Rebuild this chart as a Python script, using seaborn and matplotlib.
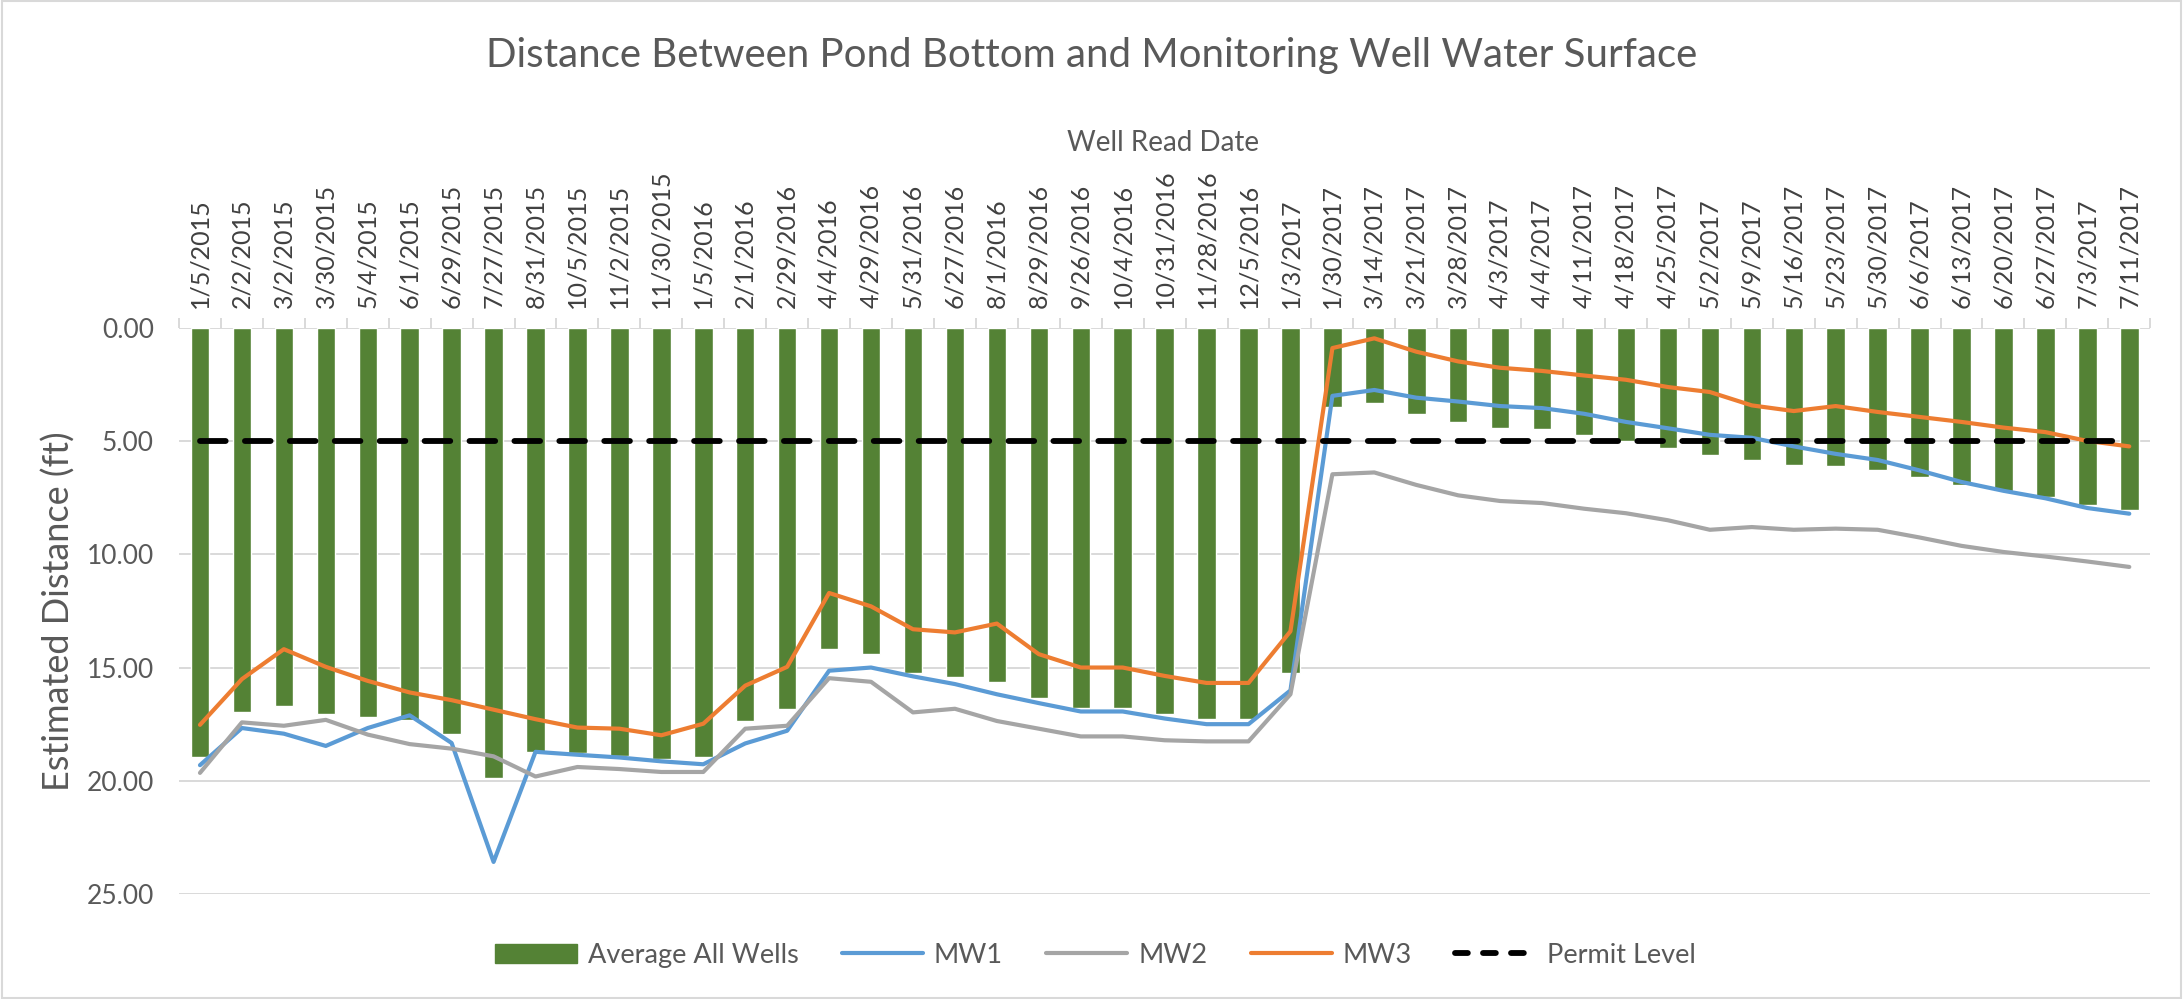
import numpy as np
import pandas as pd
import matplotlib
matplotlib.use("Agg")
import matplotlib.pyplot as plt
from matplotlib.patches import Patch, Rectangle
from matplotlib.lines import Line2D
from matplotlib.ticker import FixedLocator, FormatStrFormatter
import seaborn as sns

# well read dates (category axis)
dates = [
    "1/5/2015", "2/2/2015", "3/2/2015", "3/30/2015", "5/4/2015", "6/1/2015",
    "6/29/2015", "7/27/2015", "8/31/2015", "10/5/2015", "11/2/2015", "11/30/2015",
    "1/5/2016", "2/1/2016", "2/29/2016", "4/4/2016", "4/29/2016", "5/31/2016",
    "6/27/2016", "8/1/2016", "8/29/2016", "9/26/2016", "10/4/2016", "10/31/2016",
    "11/28/2016", "12/5/2016", "1/3/2017", "1/30/2017", "3/14/2017", "3/21/2017",
    "3/28/2017", "4/3/2017", "4/4/2017", "4/11/2017", "4/18/2017", "4/25/2017",
    "5/2/2017", "5/9/2017", "5/16/2017", "5/23/2017", "5/30/2017", "6/6/2017",
    "6/13/2017", "6/20/2017", "6/27/2017", "7/3/2017", "7/11/2017",
]

avg_all = [
    18.94, 16.98, 16.69, 17.06, 17.20, 17.31, 17.92, 19.88, 18.75, 18.77, 18.89, 19.02,
    18.94, 17.38, 16.82, 14.19, 14.41, 15.25, 15.42, 15.63, 16.35, 16.77, 16.77, 17.03,
    17.25, 17.25, 15.25, 3.51, 3.31, 3.80, 4.15, 4.41, 4.48, 4.73, 5.00, 5.29,
    5.63, 5.83, 6.05, 6.10, 6.30, 6.59, 6.93, 7.23, 7.48, 7.82, 8.04,
]
mw1 = [
    19.31, 17.67, 17.92, 18.46, 17.67, 17.11, 18.33, 23.58, 18.72, 18.85, 18.97, 19.14,
    19.27, 18.35, 17.79, 15.14, 15.00, 15.39, 15.73, 16.18, 16.57, 16.94, 16.94, 17.25,
    17.50, 17.50, 16.01, 3.01, 2.75, 3.09, 3.26, 3.46, 3.55, 3.80, 4.16, 4.44,
    4.73, 4.86, 5.24, 5.57, 5.84, 6.30, 6.81, 7.20, 7.53, 7.96, 8.21,
]
mw2 = [
    19.65, 17.42, 17.57, 17.31, 17.96, 18.38, 18.58, 18.92, 19.81, 19.39, 19.48, 19.61,
    19.61, 17.70, 17.57, 15.47, 15.63, 16.98, 16.82, 17.36, 17.70, 18.04, 18.04, 18.21,
    18.26, 18.26, 16.18, 6.47, 6.39, 6.94, 7.40, 7.65, 7.74, 7.99, 8.19, 8.50,
    8.92, 8.80, 8.92, 8.87, 8.92, 9.26, 9.63, 9.90, 10.10, 10.32, 10.56,
]
mw3 = [
    17.53, 15.51, 14.19, 14.97, 15.59, 16.10, 16.44, 16.86, 17.28, 17.65, 17.70, 17.99,
    17.48, 15.80, 14.97, 11.71, 12.30, 13.31, 13.45, 13.06, 14.41, 15.00, 15.00, 15.37,
    15.68, 15.68, 13.40, 0.90, 0.47, 1.06, 1.49, 1.77, 1.91, 2.11, 2.30, 2.62,
    2.84, 3.43, 3.68, 3.46, 3.72, 3.94, 4.16, 4.41, 4.61, 5.00, 5.24,
]
permit = [
    5.00, 5.00, 5.00, 5.00, 5.00, 5.00, 5.00, 5.00, 5.00, 5.00, 5.00, 5.00,
    5.00, 5.00, 5.00, 5.00, 5.00, 5.00, 5.00, 5.00, 5.00, 5.00, 5.00, 5.00,
    5.00, 5.00, 5.00, 5.00, 5.00, 5.00, 5.00, 5.00, 5.00, 5.00, 5.00, 5.00,
    5.00, 5.00, 5.00, 5.00, 5.00, 5.00, 5.00, 5.00, 5.00, 5.00, 5.00,
]

GREEN = "#548235"
BLUE = "#5B9BD5"
GRAY = "#A5A5A5"
ORANGE = "#ED7D31"
TEXT = "#595959"
GRID = "#D9D9D9"

sns.set_theme(style="white")
plt.rcParams["font.family"] = ["Lato", "DejaVu Sans"]

df = pd.DataFrame({"date": dates, "avg": avg_all, "mw1": mw1, "mw2": mw2,
                   "mw3": mw3, "permit": permit})
df["pos"] = np.arange(len(df))

fig = plt.figure(figsize=(21.83, 9.99), dpi=100)
ax = fig.add_axes([0.082, 0.105, 0.903, 0.567])

sns.barplot(data=df, x="date", y="avg", color=GREEN, saturation=1,
            width=0.44, ax=ax, zorder=2)
sns.lineplot(data=df, x="pos", y="mw1", color=BLUE, linewidth=3, ax=ax, zorder=3)
sns.lineplot(data=df, x="pos", y="mw2", color=GRAY, linewidth=3, ax=ax, zorder=3)
sns.lineplot(data=df, x="pos", y="mw3", color=ORANGE, linewidth=3, ax=ax, zorder=3)
sns.lineplot(data=df, x="pos", y="permit", color="black", linewidth=4.2,
             linestyle=(0, (4.4, 3.3)), dash_capstyle="round", ax=ax, zorder=4)

# y axis: distance grows downward
ax.set_ylim(25, 0)
ax.yaxis.set_major_locator(FixedLocator([0, 5, 10, 15, 20, 25]))
ax.yaxis.set_major_formatter(FormatStrFormatter("%.2f"))
ax.set_xlim(-0.5, len(dates) - 0.5)
ax.grid(axis="y", color=GRID, linewidth=1.4)
ax.set_axisbelow(True)
for s in ax.spines.values():
    s.set_visible(False)

# category axis on top
ax.xaxis.tick_top()
ax.set_xticks(np.arange(len(dates)))
ax.set_xticklabels(dates, rotation=90, fontsize=18, color="#404040")
ax.set_xticks(np.arange(len(dates) + 1) - 0.5, minor=True)
ax.tick_params(axis="x", which="major", length=0, pad=14)
ax.tick_params(axis="x", which="minor", length=7, width=1.4, color=GRID, top=True, bottom=False)
ax.tick_params(axis="y", length=0, pad=18, labelsize=19, labelcolor=TEXT)
ax.set_xlabel("")
ax.set_ylabel("Estimated Distance (ft)", fontsize=26, color=TEXT, labelpad=8)

fig.text(0.5, 0.944, "Distance Between Pond Bottom and Monitoring Well Water Surface",
         ha="center", va="center", fontsize=29, color=TEXT)
fig.text(0.533, 0.857, "Well Read Date", ha="center", va="center", fontsize=20, color=TEXT)

handles = [
    Patch(facecolor=GREEN, edgecolor=GREEN),
    Line2D([], [], color=BLUE, linewidth=3),
    Line2D([], [], color=GRAY, linewidth=3),
    Line2D([], [], color=ORANGE, linewidth=3),
    Line2D([], [], color="black", linewidth=4.2, linestyle=(0, (2.2, 2.6)),
           dash_capstyle="round"),
]
labels = ["Average All Wells", "MW1", "MW2", "MW3", "Permit Level"]
fig.legend(handles, labels, loc="center", bbox_to_anchor=(0.502, 0.044), ncol=5,
           frameon=False, fontsize=19.5, labelcolor=TEXT, handlelength=3.0,
           columnspacing=1.6, handletextpad=0.4)

fig.patches.append(Rectangle((0.001, 0.001), 0.998, 0.998, transform=fig.transFigure,
                             fill=False, edgecolor=GRID, linewidth=1.5))

fig.savefig("out.png", dpi=100)
plt.close(fig)
